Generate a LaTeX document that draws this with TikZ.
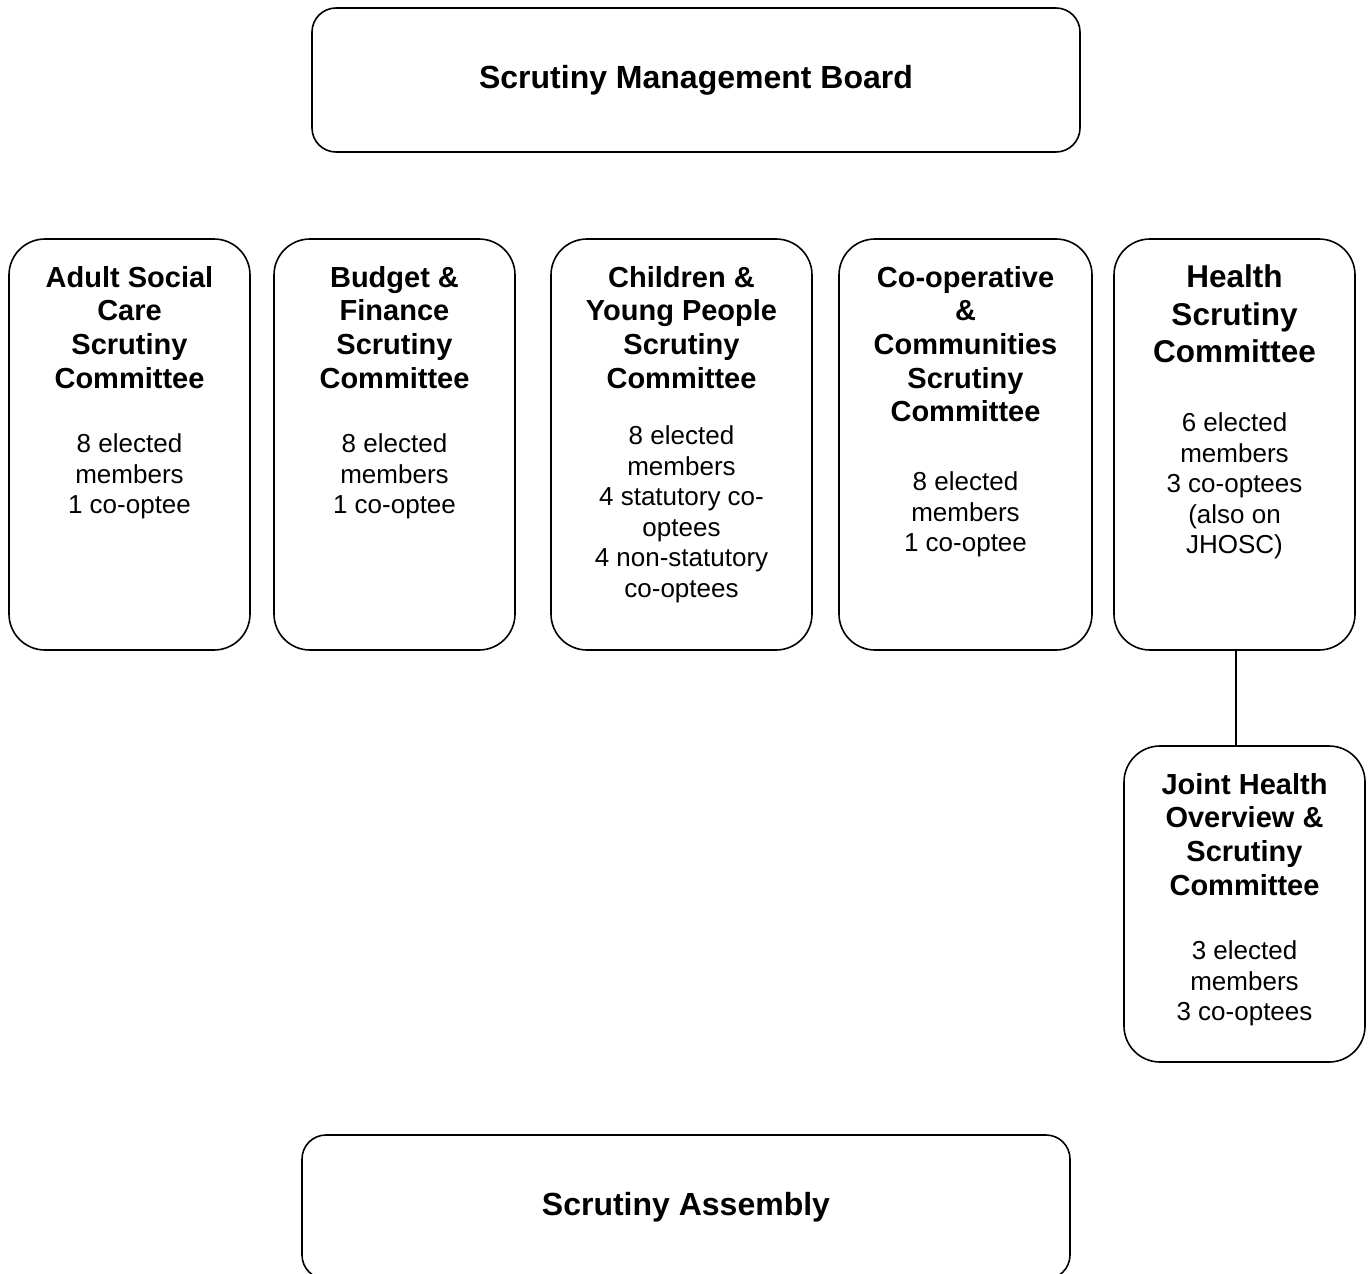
\documentclass[tikz,border=0pt]{standalone}
\usepackage{fontspec}
\setmainfont{Liberation Sans}
\usetikzlibrary{positioning}

\tikzset{
  panel/.style={draw, line width=1.6pt, rounded corners=36pt, inner sep=0pt},
  wide/.style={panel, rounded corners=24pt, minimum width=768pt, minimum height=144pt,
    font=\bfseries\fontsize{32}{38}\selectfont},
  head/.style={anchor=north, align=center, inner sep=0pt, font=\bfseries\fontsize{29}{33.7}\selectfont},
  big head/.style={head, font=\bfseries\fontsize{31.5}{37.5}\selectfont},
  members/.style={anchor=north, align=center, inner sep=0pt, font=\fontsize{26}{30.5}\selectfont},
}

\begin{document}
\begin{tikzpicture}[x=1pt,y=-1pt]
	\path[use as bounding box, clip] (0,0) rectangle (1371,1274);
	% board and assembly
	\node[wide] (smb) at (696,80) {Scrutiny Management Board};
	\node[wide] (assembly) at (686,1207) {Scrutiny Assembly};
	% committees
	\node[panel, minimum width=241pt, minimum height=411pt] (adult) at (129.5,444.5) {};
	\node[panel, minimum width=241pt, minimum height=411pt] (budget) at (394.5,444.5) {};
	\node[panel, minimum width=261pt, minimum height=411pt] (children) at (681.5,444.5) {};
	\node[panel, minimum width=253pt, minimum height=411pt] (coop) at (965.5,444.5) {};
	\node[panel, minimum width=241pt, minimum height=411pt] (health) at (1234.5,444.5) {};
	\node[panel, minimum width=241pt, minimum height=316pt] (jhosc) at (1244.5,904) {};
	% titles
	\node[head] (adult-head) at ([yshift=-27.6pt]adult.north) {Adult Social\\Care\\Scrutiny\\Committee};
	\node[head] (budget-head) at ([yshift=-27.6pt]budget.north) {Budget \&\\Finance\\Scrutiny\\Committee};
	\node[head] (children-head) at ([yshift=-27.6pt]children.north) {Children \&\\Young People\\Scrutiny\\Committee};
	\node[head] (coop-head) at ([yshift=-27.6pt]coop.north) {Co-operative\\\&\\Communities\\Scrutiny\\Committee};
	\node[big head] (health-head) at ([yshift=-26.7pt]health.north) {Health\\Scrutiny\\Committee};
	\node[head] (jhosc-head) at ([yshift=-27.6pt]jhosc.north) {Joint Health\\Overview \&\\Scrutiny\\Committee};
	% membership
	\node[members] (adult-members) at ([yshift=-195.7pt]adult.north) {8 elected\\members\\1 co-optee};
	\node[members] (budget-members) at ([yshift=-195.7pt]budget.north) {8 elected\\members\\1 co-optee};
	\node[members] (children-members) at ([yshift=-187.7pt]children.north) {8 elected\\members\\4 statutory co-\\optees\\4 non-statutory\\co-optees};
	\node[members] (coop-members) at ([yshift=-233.7pt]coop.north) {8 elected\\members\\1 co-optee};
	\node[members] (health-members) at ([yshift=-174.7pt]health.north) {6 elected\\members\\3 co-optees\\(also on\\JHOSC)};
	\node[members] (jhosc-members) at ([yshift=-195.7pt]jhosc.north) {3 elected\\members\\3 co-optees};
	% link
	\coordinate (tap) at ([xshift=1.5pt]health.south);
	\draw[line width=1.6pt] (tap) -- (tap |- jhosc.north);
\end{tikzpicture}
\end{document}
